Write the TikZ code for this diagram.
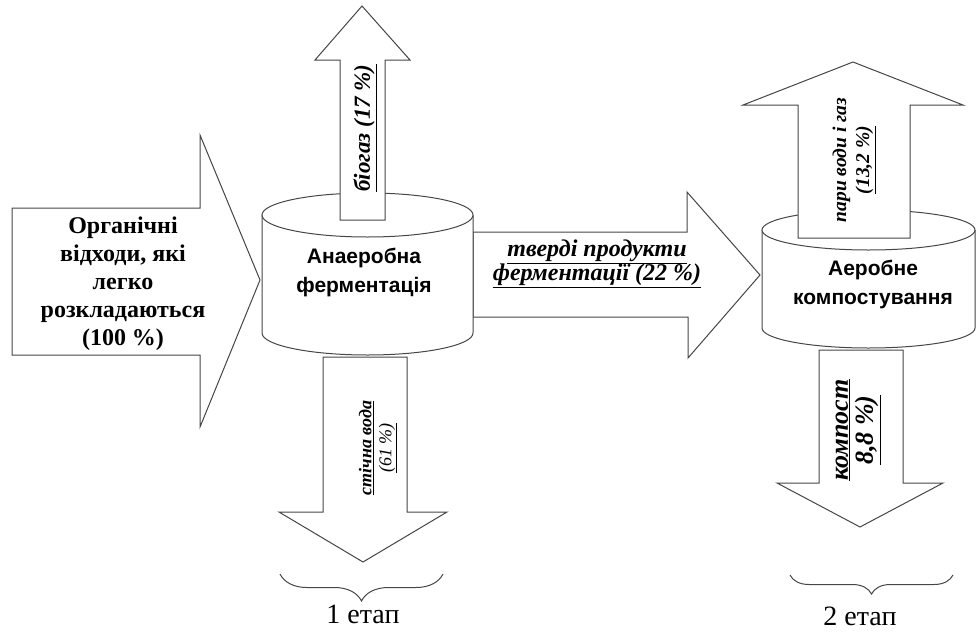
\documentclass[tikz,border=0pt]{standalone}
\usepackage{fontspec}
\setmainfont{Liberation Serif}
\newfontfamily\arialfont{Liberation Sans}
\usepackage{xcolor}
\usepackage{tikz}
\usetikzlibrary{decorations.pathreplacing, calc}
\definecolor{linegray}{RGB}{70, 70, 70}

\begin{document}
\begin{tikzpicture}[x=1pt, y=-1pt,
    blockarrow/.style={draw=linegray, fill=white, line width=1pt, line join=miter},
    drum/.style={draw=linegray, fill=white, line width=1pt},
    drumtext/.style={font=\arialfont\bfseries\fontsize{21}{29}\selectfont, align=center},
    flowtext/.style={font=\bfseries\itshape\fontsize{24}{24}\selectfont, align=center},
    stagebrace/.style={draw=linegray, line width=1pt, decorate, decoration={brace, mirror, amplitude=#1}}]
    \useasboundingbox (0,0) rectangle (976,632);

    % Input arrow
    \draw[blockarrow] (12,208) -- (200,208) -- (200,135) -- (260,280) -- (200,427) -- (200,355) -- (12,355) -- cycle;
    \node[font=\bfseries\fontsize{24}{28}\selectfont, align=center] (waste) at (123,284)
        {Органічні\\відходи, які\\легко\\розкладаються\\(100 \%)};

    % Solid products arrow
    \draw[blockarrow] (473,232) -- (687,232) -- (687,192) -- (760,275) -- (688,358) -- (688,317) -- (473,317) -- cycle;
    \node[flowtext] (solid) at (597,264) {\underline{тверді продукти}\\\underline{ферментації (22 \%)}};

    % Anaerobic fermentation
    \draw[drum] (262,215) -- (262,333) arc[start angle=180, end angle=360, x radius=105.5pt, y radius=22pt] -- (473,215);
    \draw[drum] (367.5,215) ellipse [x radius=105.5pt, y radius=22pt];
    \node[drumtext] (anaer) at (364,272) {Анаеробна\\ферментація};

    % Aerobic composting
    \draw[drum] (762,230) -- (762,328) arc[start angle=180, end angle=360, x radius=106.5pt, y radius=20pt] -- (975,230);
    \draw[drum] (868.5,230) ellipse [x radius=106.5pt, y radius=20pt];
    \node[drumtext] (aer) at (873,284) {Аеробне\\компостування};

    % Biogas
    \draw[blockarrow] (340,220) -- (340,60) -- (315,60) -- (362,6) -- (410,60) -- (385,60) -- (385,220) -- cycle;
    \node[flowtext, font=\bfseries\itshape\fontsize{23}{24}\selectfont, rotate=90] (biogas) at (365,128) {\underline{біогаз (17 \%)}};

    % Waste water
    \draw[blockarrow] (323,357) -- (407,357) -- (407,512) -- (447,512) -- (363,562) -- (279,512) -- (323,512) -- cycle;
    \node[font=\itshape\fontsize{18}{20}\selectfont, align=center, rotate=90] (water) at (378,448)
        {\textbf{\underline{стічна вода}}\\\underline{(61 \%)}};

    % Vapour and gas
    \draw[blockarrow] (798,238) -- (798,105) -- (743,105) -- (853,62) -- (963,105) -- (910,105) -- (910,238) -- cycle;
    \node[font=\bfseries\itshape\fontsize{19.5}{23}\selectfont, align=center, rotate=90] (vapour) at (854,160)
        {пари води і газ\\\underline{(13,2 \%)}};

    % Compost
    \draw[blockarrow] (819,350) -- (903,350) -- (903,483) -- (943,483) -- (860,527) -- (777,483) -- (819,483) -- cycle;
    \node[flowtext, font=\bfseries\itshape\fontsize{26}{25}\selectfont, rotate=90] (compost) at (858,430)
        {\underline{компост}\\\underline{8,8 \%)}};

    % Stages
    \coordinate (b1l) at (280,574);
    \coordinate (b1r) at (443,574);
    \coordinate (b2l) at (790,575);
    \coordinate (b2r) at (953,575);
    \draw[stagebrace=27pt] (b1l) -- (b1r);
    \draw[stagebrace=19pt] (b2l) -- (b2r);
    \node[font=\fontsize{28}{30}\selectfont] (stage1) at (363,614) {1 етап};
    \node[font=\fontsize{28}{30}\selectfont] (stage2) at (860,616) {2 етап};

\end{tikzpicture}
\end{document}
